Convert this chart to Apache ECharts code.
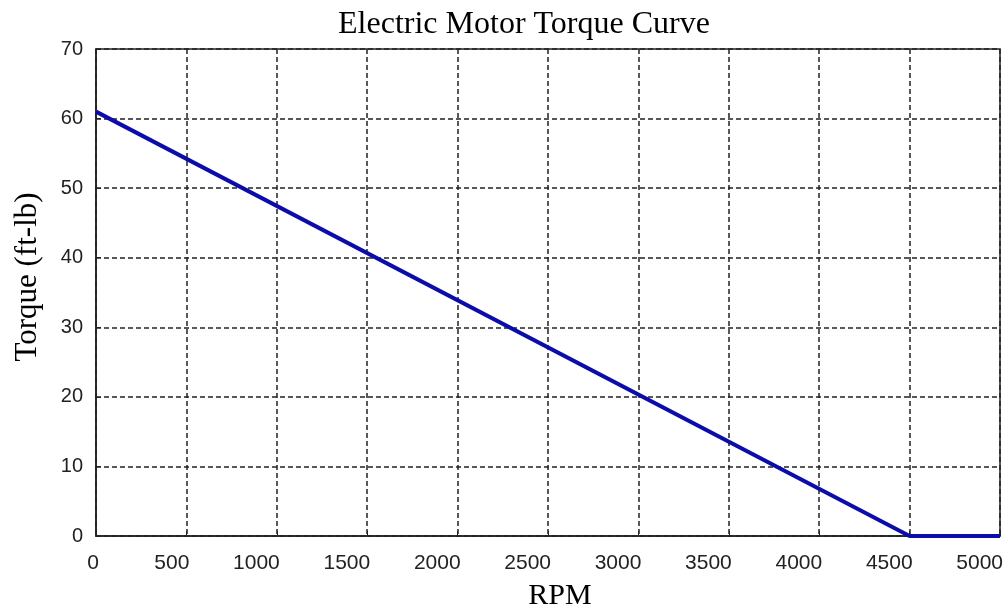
<!DOCTYPE html>
<html>
<head>
<meta charset="utf-8">
<script src="https://cdn.jsdelivr.net/npm/echarts@6/dist/echarts.min.js"></script>
<style>
html,body{margin:0;padding:0;background:#fff;}
#chart{width:1003px;height:612px;}
</style>
</head>
<body>
<div id="chart"></div>
<script>
// Data
const rpm = [0, 4500, 5000];
const torque = [61, 0, 0];
const xTicks = [0, 500, 1000, 1500, 2000, 2500, 3000, 3500, 4000, 4500, 5000];
const yTicks = [0, 10, 20, 30, 40, 50, 60, 70];
const titleText = 'Electric Motor Torque Curve';
const xName = 'RPM';
const yName = 'Torque (ft-lb)';

const chart = echarts.init(document.getElementById('chart'));
const serif = '"Liberation Serif", "Times New Roman", serif';
const sans = '"Liberation Sans", Arial, sans-serif';

const gridLine = { show: true, lineStyle: { color: '#222', width: 1.5, type: [5, 3] } };

chart.setOption({
  animation: false,
  backgroundColor: '#fff',
  grid: { left: 96, right: 3, top: 49, bottom: 76, containLabel: false, outerBoundsMode: 'none', show: true, borderColor: '#222', borderWidth: 1.5, backgroundColor: 'transparent' },
  graphic: [
    { type: 'text', x: 524, y: 25, style: { text: titleText, font: '32px ' + serif, fill: '#000', textAlign: 'center', textVerticalAlign: 'middle' } },
    { type: 'text', x: 560, y: 596, style: { text: xName, font: '30px ' + serif, fill: '#000', textAlign: 'center', textVerticalAlign: 'middle' } },
    { type: 'text', x: 28, y: 277, rotation: Math.PI / 2, style: { text: yName, font: '31px ' + serif, fill: '#000', textAlign: 'center', textVerticalAlign: 'middle' } }
  ],
  xAxis: {
    type: 'value',
    min: xTicks[0], max: xTicks[xTicks.length - 1], interval: 500,
    axisLine: { show: true, onZero: false, lineStyle: { color: '#222', width: 1.5 } },
    axisTick: { show: true, inside: true, length: 5, lineStyle: { color: '#222' } },
    axisLabel: { color: '#222', fontFamily: sans, fontSize: 21, margin: 17, align: 'right', padding: [0, -3, 0, 0], showMinLabel: true, showMaxLabel: true, hideOverlap: false, formatter: v => String(v) },
    splitLine: gridLine
  },
  yAxis: {
    type: 'value',
    min: yTicks[0], max: yTicks[yTicks.length - 1], interval: 10,
    axisLine: { show: true, onZero: false, lineStyle: { color: '#222', width: 1.5 } },
    axisTick: { show: true, inside: true, length: 5, lineStyle: { color: '#222' } },
    axisLabel: { color: '#222', fontFamily: sans, fontSize: 20, margin: 13, formatter: v => String(v) },
    splitLine: gridLine
  },
  series: [{
    type: 'line',
    data: rpm.map((x, i) => [x, torque[i]]),
    showSymbol: false,
    symbol: 'none',
    clip: false,
    lineStyle: { color: '#0c0caa', width: 4 },
    z: 5
  }]
});
</script>
</body>
</html>
